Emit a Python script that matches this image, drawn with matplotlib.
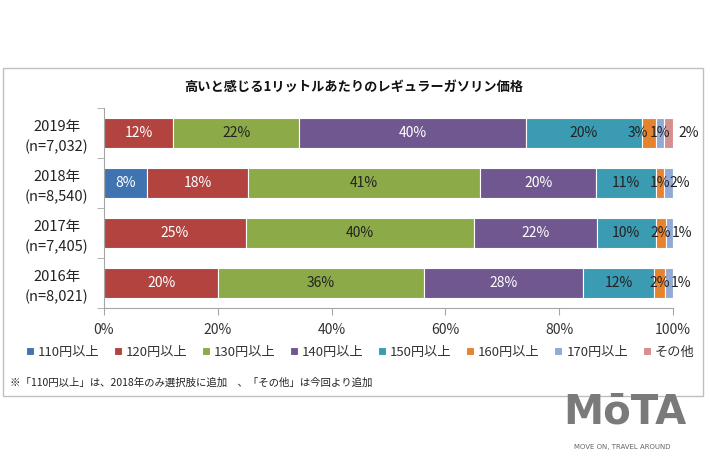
import matplotlib.pyplot as plt
from matplotlib.patches import Rectangle
import numpy as np

plt.rcParams['font.family'] = ['Noto Sans CJK JP', 'DejaVu Sans']

# data (percent)
years = ['2019年\n(n=7,032)', '2018年\n(n=8,540)', '2017年\n(n=7,405)', '2016年\n(n=8,021)']
series = ['110円以上', '120円以上', '130円以上', '140円以上', '150円以上', '160円以上', '170円以上', 'その他']
v110 = [0, 7.6, 0, 0]
v120 = [12.2, 17.7, 24.9, 20.1]
v130 = [22.1, 40.8, 40.1, 36.1]
v140 = [39.8, 20.4, 21.6, 28.0]
v150 = [20.4, 10.6, 10.4, 12.4]
v160 = [2.6, 1.3, 1.7, 2.0]
v170 = [1.3, 1.6, 1.3, 1.4]
vother = [1.6, 0, 0, 0]

values = [v110, v120, v130, v140, v150, v160, v170, vother]
colors = ['#3F74B1', '#B3433F', '#8CAA48', '#71578F', '#3A9BB3', '#E7832F', '#90A9D6', '#D58F8D']
text_colors = ['white', 'white', '#222222', 'white', '#222222', '#222222', '#222222', '#222222']

fig = plt.figure(figsize=(7.1, 4.73), dpi=100)
fig.patch.set_facecolor('white')

# chart area border
fig.patches.append(Rectangle((3 / 710, 1 - 396 / 473), 700 / 710, 328 / 473,
                             transform=fig.transFigure, fill=False,
                             edgecolor='#BFBFBF', linewidth=1))

ax = fig.add_axes([104 / 710, 1 - 308 / 473, 569 / 710, 200 / 473])

y = np.arange(len(years))
left = np.zeros(len(years))
for i, vals in enumerate(values):
    vals = np.array(vals)
    ax.barh(y, vals, left=left, height=0.6, color=colors[i],
            edgecolor='white', linewidth=0.8, label=series[i])
    for j, v in enumerate(vals):
        if v <= 0:
            continue
        xpos = left[j] + v / 2
        ha = 'center'
        rest = [values[k][j] for k in range(i + 1, len(values)) if values[k][j] > 0]
        if i == 7:
            # label sits right of the bar
            xpos = 101.0
            ha = 'left'
        elif v < 5 and not rest:
            xpos = left[j] + 1.0
            ha = 'left'
        elif v < 5 and len(rest) > 1:
            xpos = left[j] + v - 1.5
            ha = 'right'
        ax.text(xpos, y[j], f'{round(v)}%', ha=ha, va='center',
                fontsize=10, color=text_colors[i])
    left += vals

ax.set_xlim(0, 100)
ax.set_ylim(len(years) - 0.5, -0.5)
ax.set_xticks(np.arange(0, 101, 20))
ax.set_xticklabels([f'{t}%' for t in range(0, 101, 20)], fontsize=10, color='#333333')
ax.set_yticks(y)
ax.set_yticklabels(years, fontsize=10.5, color='#222222', linespacing=1.5)
for lbl in ax.get_yticklabels():
    lbl.set_horizontalalignment('center')
ax.set_yticks(np.arange(-0.5, len(years)), minor=True)
ax.tick_params(axis='y', which='major', length=0, pad=34)
ax.tick_params(axis='y', which='minor', length=5, color='#A6A6A6')
ax.tick_params(axis='x', length=5, color='#A6A6A6', pad=6)
for s in ['top', 'right']:
    ax.spines[s].set_visible(False)
for s in ['left', 'bottom']:
    ax.spines[s].set_color('#A6A6A6')

fig.text(354 / 710, 1 - 87 / 473, '高いと感じる1リットルあたりのレギュラーガソリン価格',
         ha='center', va='center', fontsize=9.5, fontweight='bold', color='#111111')

fig.legend(*ax.get_legend_handles_labels(), loc='center',
           bbox_to_anchor=(360 / 710, 1 - 352 / 473), bbox_transform=fig.transFigure,
           ncol=8, frameon=False, fontsize=9.5, handlelength=0.6, handleheight=0.6,
           handletextpad=0.3, columnspacing=1.1, labelcolor='#333333')

fig.text(10 / 710, 1 - 383 / 473, '※「110円以上」は、2018年のみ選択肢に追加　、「その他」は今回より追加',
         ha='left', va='center', fontsize=7.5, color='#222222')

# logo
fig.text(625 / 710, 1 - 412 / 473, 'MōTA', ha='center', va='center',
         fontsize=29, fontweight='bold', color='#7A7A7A', family=['DejaVu Sans'])
fig.text(622 / 710, 1 - 447 / 473, 'MOVE ON, TRAVEL AROUND', ha='center', va='center',
         fontsize=5, color='#666666', family=['DejaVu Sans'])

fig.savefig('out.png', dpi=100)
